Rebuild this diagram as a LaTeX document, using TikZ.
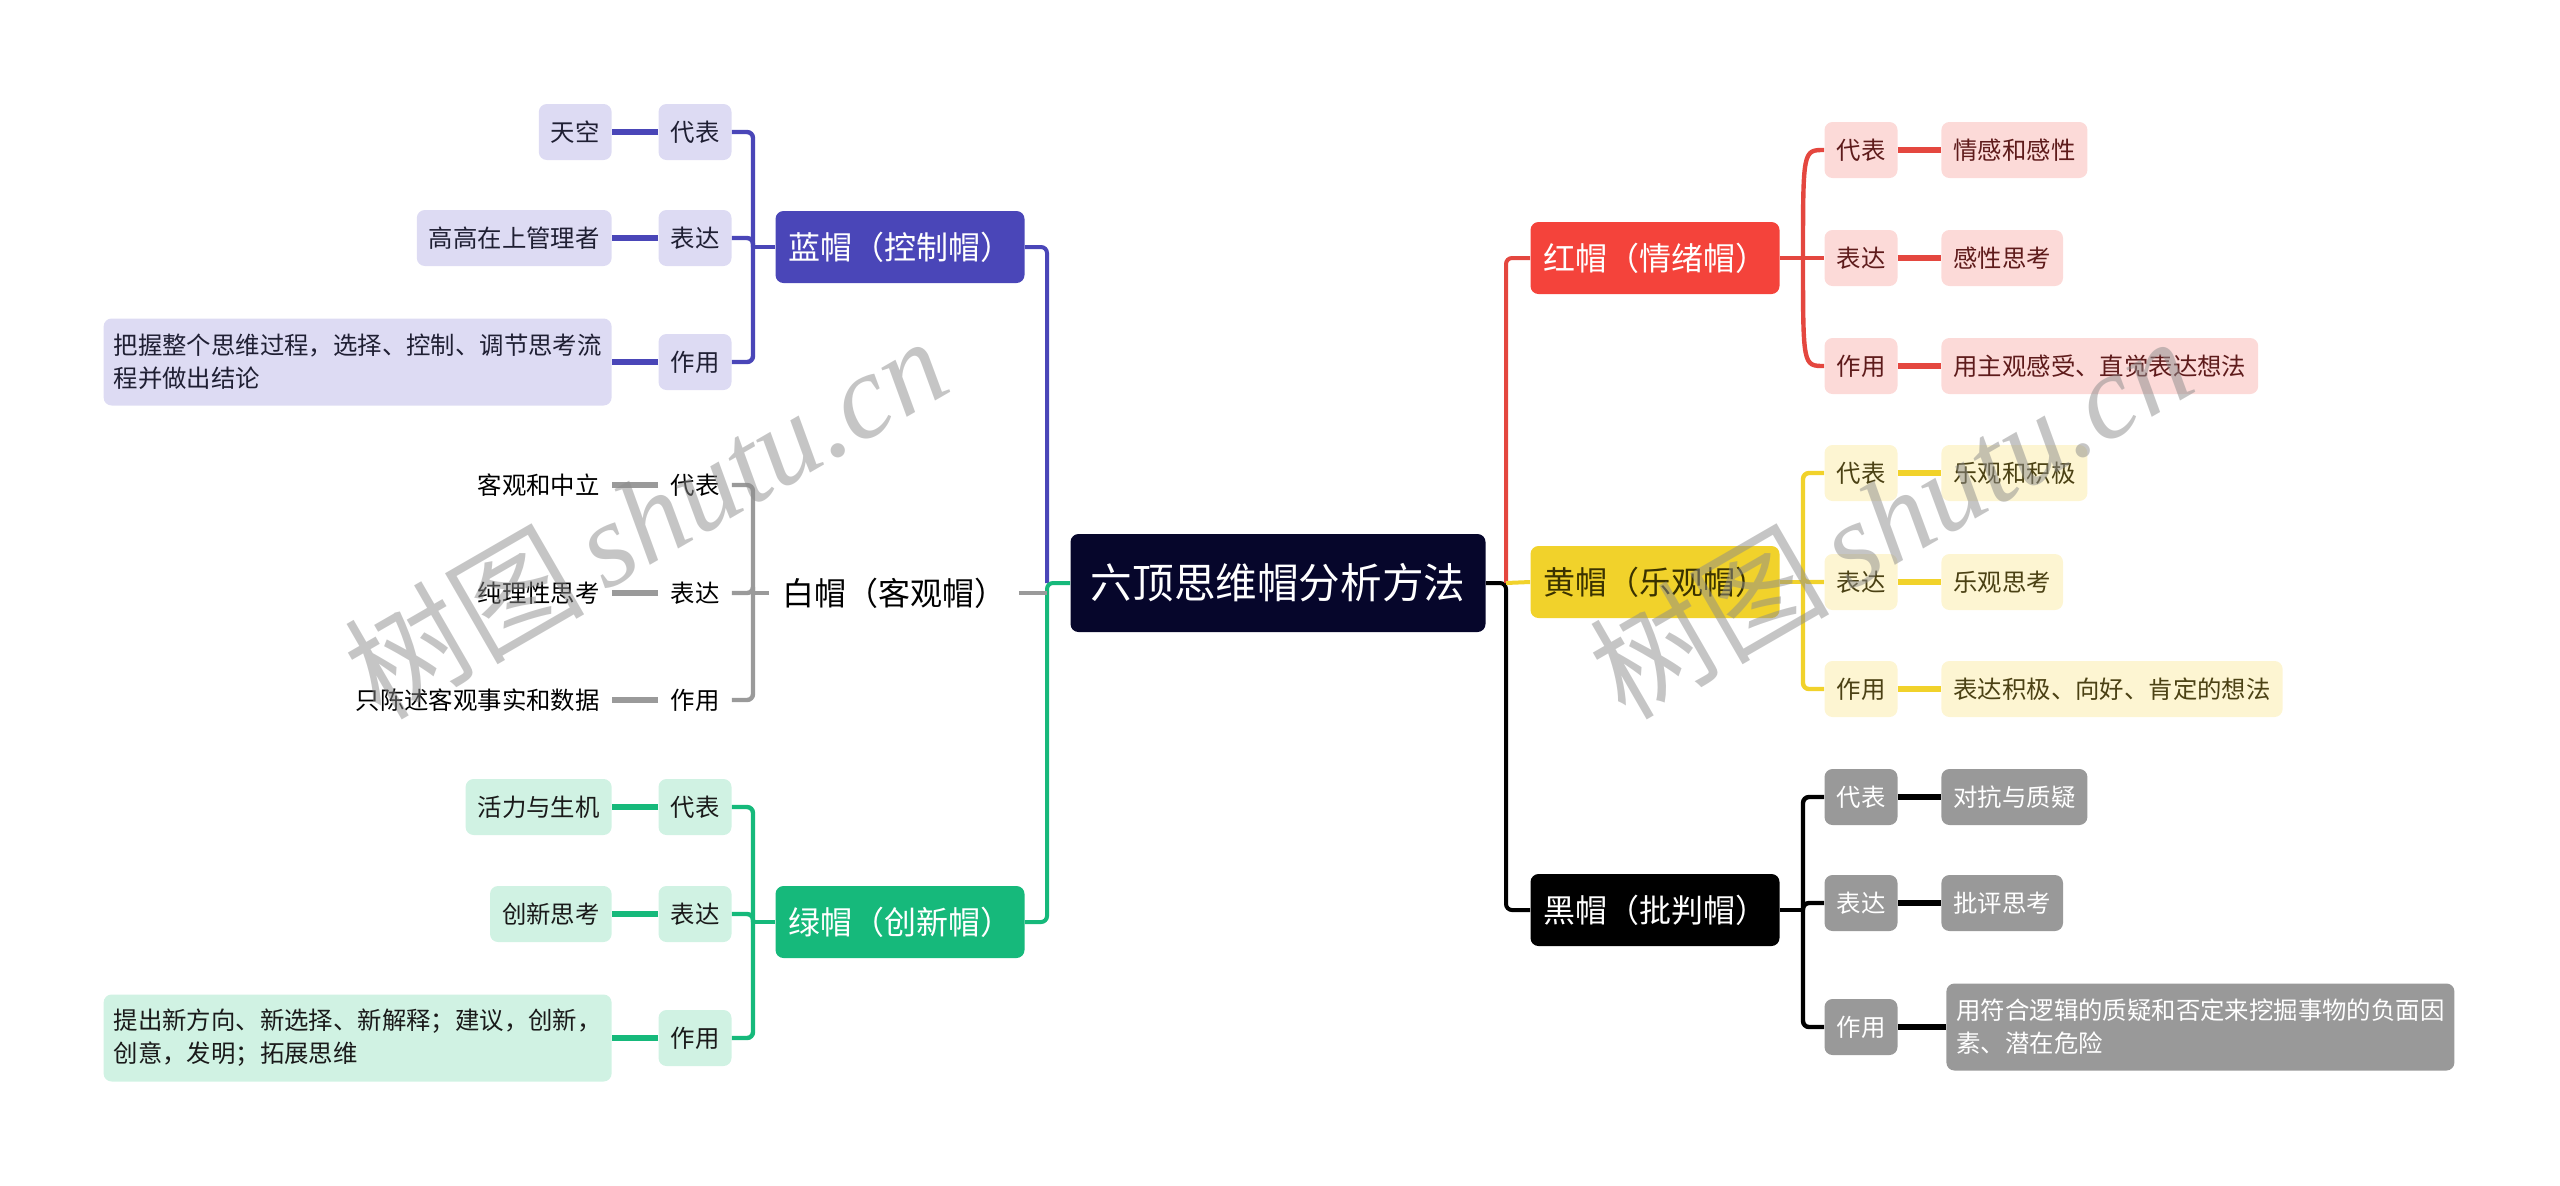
\documentclass[tikz,border=0pt]{standalone}
\usepackage{fontspec}
\usepackage{tikz}
\usepackage{xcolor}
\newfontfamily\cjk{Noto Sans CJK SC}
\newfontfamily\wmfont{Liberation Serif}

\definecolor{rootc}{HTML}{06062B}
\definecolor{bluec}{HTML}{4A46B8}
\definecolor{bluel}{HTML}{DDDBF3}
\definecolor{bluet}{HTML}{1F1F33}
\definecolor{greenc}{HTML}{16B97B}
\definecolor{greenl}{HTML}{D0F2E3}
\definecolor{greent}{HTML}{1A1A1A}
\definecolor{redc}{HTML}{F4433B}
\definecolor{redline}{HTML}{E4473F}
\definecolor{redl}{HTML}{FCDAD8}
\definecolor{redt}{HTML}{5E1B1B}
\definecolor{yellowc}{HTML}{F1D22B}
\definecolor{yellowl}{HTML}{FDF5D2}
\definecolor{yellowt}{HTML}{4B4114}
\definecolor{yellowh}{HTML}{3A3200}
\definecolor{grayline}{HTML}{9A9A9A}
\definecolor{blackl}{HTML}{999999}

\tikzset{
  box/.style={rounded corners=4pt, inner sep=0pt, align=center},
  rootbox/.style={box, fill=rootc, text=white, minimum width=207.5pt, minimum height=49pt,
    font=\cjk\fontsize{20.8}{25}\selectfont},
  hatbox/.style={box, minimum width=124.5pt, minimum height=36pt, font=\cjk\fontsize{16}{19}\selectfont},
  tagbox/.style={box, minimum width=36.5pt, minimum height=28pt, font=\cjk\fontsize{12.2}{15}\selectfont},
  leafbox/.style={box, inner xsep=6pt, minimum height=28pt, font=\cjk\fontsize{12.2}{15}\selectfont},
  longleaf/.style={leafbox, inner xsep=5pt, align=left, minimum height=43.5pt,
    font=\cjk\fontsize{12.2}{16.5}\selectfont},
  bluesoft/.style={fill=bluel, text=bluet},
  greensoft/.style={fill=greenl, text=greent},
  redsoft/.style={fill=redl, text=redt},
  yellowsoft/.style={fill=yellowl, text=yellowt},
  blacksoft/.style={fill=blackl, text=white},
  plainsoft/.style={text=black},
  hatline/.style={line width=2pt, rounded corners=3pt},
  tagline/.style={line width=2.2pt, rounded corners=3pt},
  leafline/.style={line width=3pt},
  wmark/.style={text=black!45, text opacity=0.5, inner sep=0pt, font=\cjk\fontsize{60}{66}\selectfont}
}

\begin{document}
\begin{tikzpicture}[x=0.5pt,y=-0.5pt]
\useasboundingbox (0,0) rectangle (2560,1185);

% centre
\node[rootbox] (root) at (1278,583) {六顶思维帽分析方法};

% hats
\node[hatbox, fill=bluec, text=white] (blue) at (900,247) {蓝帽（控制帽）};
\node[hatbox, plainsoft] (white) at (894,593) {白帽（客观帽）};
\node[hatbox, fill=greenc, text=white] (green) at (900,922) {绿帽（创新帽）};
\node[hatbox, fill=redc, text=white] (red) at (1655,258) {红帽（情绪帽）};
\node[hatbox, fill=yellowc, text=yellowh] (yellow) at (1655,582) {黄帽（乐观帽）};
\node[hatbox, fill=black, text=white] (black) at (1655,910) {黑帽（批判帽）};

% blue hat
\node[tagbox, bluesoft] (blue1) at (695,132) {代表};
\node[tagbox, bluesoft] (blue2) at (695,238) {表达};
\node[tagbox, bluesoft] (blue3) at (695,362) {作用};
\node[leafbox, bluesoft, anchor=east] (blueA) at (612,132) {天空};
\node[leafbox, bluesoft, anchor=east] (blueB) at (612,238) {高高在上管理者};
\node[longleaf, bluesoft, anchor=east] (blueC) at (612,362) {把握整个思维过程，选择、控制、调节思考流\\程并做出结论};

% white hat
\node[tagbox, plainsoft] (white1) at (695,485) {代表};
\node[tagbox, plainsoft] (white2) at (695,593) {表达};
\node[tagbox, plainsoft] (white3) at (695,700) {作用};
\node[leafbox, plainsoft, anchor=east] (whiteA) at (612,485) {客观和中立};
\node[leafbox, plainsoft, anchor=east] (whiteB) at (612,593) {纯理性思考};
\node[leafbox, plainsoft, anchor=east] (whiteC) at (612,700) {只陈述客观事实和数据};

% green hat
\node[tagbox, greensoft] (green1) at (695,807) {代表};
\node[tagbox, greensoft] (green2) at (695,914) {表达};
\node[tagbox, greensoft] (green3) at (695,1038) {作用};
\node[leafbox, greensoft, anchor=east] (greenA) at (612,807) {活力与生机};
\node[leafbox, greensoft, anchor=east] (greenB) at (612,914) {创新思考};
\node[longleaf, greensoft, anchor=east] (greenC) at (612,1038) {提出新方向、新选择、新解释；建议，创新，\\创意，发明；拓展思维};

% red hat
\node[tagbox, redsoft] (red1) at (1861,150) {代表};
\node[tagbox, redsoft] (red2) at (1861,258) {表达};
\node[tagbox, redsoft] (red3) at (1861,366) {作用};
\node[leafbox, redsoft, anchor=west] (redA) at (1941,150) {情感和感性};
\node[leafbox, redsoft, anchor=west] (redB) at (1941,258) {感性思考};
\node[leafbox, redsoft, anchor=west] (redC) at (1941,366) {用主观感受、直觉表达想法};

% yellow hat
\node[tagbox, yellowsoft] (yellow1) at (1861,473) {代表};
\node[tagbox, yellowsoft] (yellow2) at (1861,582) {表达};
\node[tagbox, yellowsoft] (yellow3) at (1861,689) {作用};
\node[leafbox, yellowsoft, anchor=west] (yellowA) at (1941,473) {乐观和积极};
\node[leafbox, yellowsoft, anchor=west] (yellowB) at (1941,582) {乐观思考};
\node[leafbox, yellowsoft, anchor=west] (yellowC) at (1941,689) {表达积极、向好、肯定的想法};

% black hat
\node[tagbox, blacksoft] (black1) at (1861,797) {代表};
\node[tagbox, blacksoft] (black2) at (1861,903) {表达};
\node[tagbox, blacksoft] (black3) at (1861,1027) {作用};
\node[leafbox, blacksoft, anchor=west] (blackA) at (1941,797) {对抗与质疑};
\node[leafbox, blacksoft, anchor=west] (blackB) at (1941,903) {批评思考};
\node[longleaf, blacksoft, anchor=west] (blackC) at (1946,1027) {用符合逻辑的质疑和否定来挖掘事物的负面因\\素、潜在危险};

% junctions
\coordinate (leftj) at (1047,583);
\coordinate (rightj) at (1506,583);
\coordinate (bluej) at (753,247);
\coordinate (whitej) at (753,593);
\coordinate (greenj) at (753,922);
\coordinate (redj) at (1803,258);
\coordinate (yellowj) at (1803,582);
\coordinate (blackj) at (1803,910);

% centre to hats
\draw[hatline, bluec] (leftj) |- (blue.east);
\draw[hatline, greenc] (root.west) -- (leftj) |- (green.east);
\draw[hatline, grayline] (white.east) -- (leftj |- white.east);
\draw[hatline, black] (root.east) -- (rightj) |- (black.west);
\draw[hatline, redline] (rightj) |- (red.west);
\draw[hatline, yellowc] (rightj) -- (yellow.west);

% hats to tags
\draw[tagline, bluec] (blue.west) -- (bluej);
\draw[tagline, bluec] (bluej) |- (blue1.east);
\draw[tagline, bluec] (bluej) |- (blue2.east);
\draw[tagline, bluec] (bluej) |- (blue3.east);
\draw[tagline, grayline] (white.west) -- (whitej);
\draw[tagline, grayline] (whitej) |- (white1.east);
\draw[tagline, grayline] (whitej) |- (white2.east);
\draw[tagline, grayline] (whitej) |- (white3.east);
\draw[tagline, greenc] (green.west) -- (greenj);
\draw[tagline, greenc] (greenj) |- (green1.east);
\draw[tagline, greenc] (greenj) |- (green2.east);
\draw[tagline, greenc] (greenj) |- (green3.east);
\draw[tagline, redline] (red.east) -- (redj);
\draw[tagline, redline] (redj) .. controls (1803,150) .. (red1.west);
\draw[tagline, redline] (redj) -- (red2.west);
\draw[tagline, redline] (redj) .. controls (1803,366) .. (red3.west);
\draw[tagline, yellowc] (yellow.east) -- (yellowj);
\draw[tagline, yellowc] (yellowj) |- (yellow1.west);
\draw[tagline, yellowc] (yellowj) |- (yellow2.west);
\draw[tagline, yellowc] (yellowj) |- (yellow3.west);
\draw[tagline, black] (black.east) -- (blackj);
\draw[tagline, black] (blackj) |- (black1.west);
\draw[tagline, black] (blackj) |- (black2.west);
\draw[tagline, black] (blackj) |- (black3.west);

% tags to leaves
\draw[leafline, bluec] (blue1.west) -- (blueA.east);
\draw[leafline, bluec] (blue2.west) -- (blueB.east);
\draw[leafline, bluec] (blue3.west) -- (blueC.east);
\draw[leafline, grayline] (white1.west) -- (whiteA.east);
\draw[leafline, grayline] (white2.west) -- (whiteB.east);
\draw[leafline, grayline] (white3.west) -- (whiteC.east);
\draw[leafline, greenc] (green1.west) -- (greenA.east);
\draw[leafline, greenc] (green2.west) -- (greenB.east);
\draw[leafline, greenc] (green3.west) -- (greenC.east);
\draw[leafline, redline] (red1.east) -- (redA.west);
\draw[leafline, redline] (red2.east) -- (redB.west);
\draw[leafline, redline] (red3.east) -- (redC.west);
\draw[leafline, yellowc] (yellow1.east) -- (yellowA.west);
\draw[leafline, yellowc] (yellow2.east) -- (yellowB.west);
\draw[leafline, yellowc] (yellow3.east) -- (yellowC.west);
\draw[leafline, black] (black1.east) -- (blackA.west);
\draw[leafline, black] (black2.east) -- (blackB.west);
\draw[leafline, black] (black3.east) -- (blackC.west);

% watermark
\node[wmark, rotate=30] (markL) at (645,516) {树图\,{\wmfont\itshape shutu.cn}};
\node[wmark, rotate=30] (markR) at (1890,516) {树图\,{\wmfont\itshape shutu.cn}};
\end{tikzpicture}
\end{document}
